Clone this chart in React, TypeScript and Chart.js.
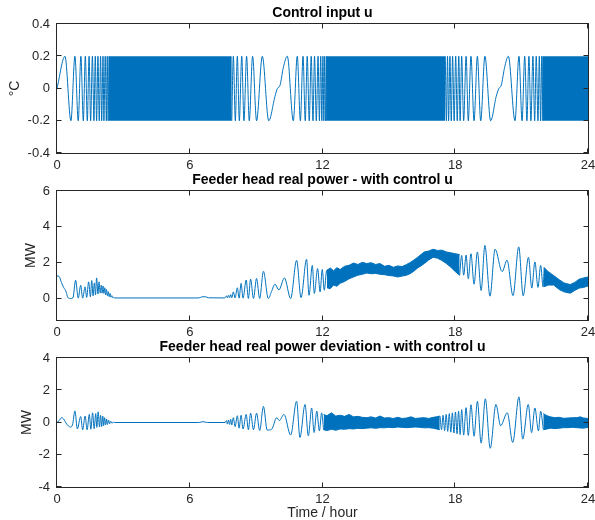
import React, { useEffect, useRef } from 'react';
import { Chart, registerables } from 'chart.js';

Chart.register(...registerables);

const LINE_COLOR = '#0072BD';
const AXIS_COLOR = '#262626';
const FONT = '"Liberation Sans", Arial, Helvetica, sans-serif';

// ---------- shared axis ----------
const hourTicks = [0, 6, 12, 18, 24];

// ---------- panel 1 : control input u ----------
const uTicks = [-0.4, -0.2, 0, 0.2, 0.4];
const uTime = [
  0, 0.36, 0.63, 0.81, 0.96, 1.08, 1.19, 1.28, 1.37, 1.45, 1.52, 1.6, 1.67, 1.73, 1.79, 1.85, 1.91, 1.97, 2.02, 2.08, 2.12, 2.18, 2.23, 2.27, 2.31, 2.35,
  5,
  7.9, 7.97, 8.06, 8.15, 8.24, 8.35, 8.45, 8.57, 8.69, 8.84, 9.02, 9.28, 9.57, 9.85, 9.96, 10.08, 10.23, 10.41, 10.68, 10.86, 11.0, 11.12, 11.22, 11.31, 11.4, 11.49, 11.57, 11.64, 11.72, 11.8, 11.86, 11.92, 11.97, 12.02, 12.06, 12.1, 12.14, 12.18,
  15,
  17.55, 17.6, 17.65, 17.7, 17.76, 17.82, 17.88, 17.95, 18.02, 18.09, 18.16, 18.22, 18.29, 18.38, 18.49, 18.59, 18.71, 18.85, 19.0, 19.15, 19.34, 19.6, 19.85, 19.97, 20.08, 20.23, 20.4, 20.7, 20.88, 21.02, 21.14, 21.24, 21.33, 21.42, 21.51, 21.59, 21.66, 21.74, 21.8, 21.86, 21.91, 21.96,
];
const uValue = [
  0, 0.2, -0.2, 0.2, -0.2, 0.2, -0.2, 0.2, -0.2, 0.2, -0.2, 0.2, -0.2, 0.2, -0.2, 0.2, -0.2, 0.2, -0.2, 0.2, -0.2, 0.2, -0.2, 0.2, -0.2, 0.2,
  null,
  -0.2, 0.2, -0.2, 0.2, -0.2, 0.2, -0.2, 0.2, -0.2, 0.2, -0.2, 0.2, -0.2, -0.05, 0, 0.02, 0.13, 0.2, -0.2, 0.2, -0.2, 0.2, -0.2, 0.2, -0.2, 0.2, -0.2, 0.2, -0.2, 0.2, -0.2, 0.2, -0.2, 0.2, -0.2, 0.2, -0.2, 0.2,
  null,
  0.2, -0.2, 0.2, -0.2, 0.2, -0.2, 0.2, -0.2, 0.2, -0.2, 0.2, -0.2, 0.2, -0.2, 0.2, -0.2, 0.2, -0.2, 0.2, -0.2, 0.2, -0.2, -0.05, 0, 0.02, 0.13, 0.2, -0.2, 0.2, -0.2, 0.2, -0.2, 0.2, -0.2, 0.2, -0.2, 0.2, -0.2, 0.2, -0.2, 0.2, -0.2,
];
// dense (solid) stretches of u
const uBandStart = [2.33, 12.16, 21.93];
const uBandEnd = [7.9, 17.55, 24];
const uBandHigh = [0.2, 0.2, 0.2];
const uBandLow = [-0.2, -0.2, -0.2];

// ---------- panel 2 : feeder head real power ----------
const pTicks = [0, 2, 4, 6];
const pTime = [
  0, 0.1, 0.2, 0.3, 0.36, 0.42, 0.48, 0.6, 0.72, 0.84, 0.96, 1.07, 1.16, 1.27, 1.34, 1.43, 1.51, 1.57, 1.63, 1.69, 1.74, 1.79, 1.85, 1.9, 1.95,
  2.0, 2.04, 2.08, 2.12, 2.16, 2.2, 2.24, 2.28, 2.32, 2.36, 2.4, 2.44, 2.48, 2.52, 2.56, 2.6,
  6.4, 6.55, 6.7, 6.85, 7.55, 7.6, 7.66, 7.7, 7.75, 7.8, 7.85, 7.9, 7.97, 8.05, 8.15, 8.23, 8.32, 8.41, 8.55, 8.65, 8.75, 8.88, 9.02, 9.16, 9.33, 9.55,
  9.7, 9.85, 10.03, 10.28, 10.56, 10.83, 11.03, 11.28, 11.39, 11.54, 11.63, 11.78, 11.89, 11.99, 12.08, 12.19, 12.26,
  15,
  18.2, 18.29, 18.38, 18.49, 18.59, 18.71, 18.85, 19.0, 19.17, 19.34, 19.57, 19.8, 20.12, 20.34, 20.61, 20.87, 21.07, 21.31, 21.46, 21.6, 21.74, 21.86, 21.97, 22.02,
];
const pValue = [
  1.26, 1.22, 0.9, 0.62, 0.5, 0.35, 0.08, 0.0, 0.03, 1.02, 0.02, 0.74, 0.02, 0.65, 0.06, 0.93, 0.1, 1.0, 0.15, 0.87, 0.2, 1.15, 0.25, 0.93, 0.3,
  0.75, 0.3, 0.7, 0.28, 0.6, 0.2, 0.5, 0.15, 0.38, 0.1, 0.28, 0.07, 0.16, 0.04, 0.06, 0.03,
  0.03, 0.09, 0.1, 0.04, 0.03, 0.05, 0.15, 0.03, 0.18, 0.04, 0.22, 0.04, 0.37, 0.03, 0.6, 0.02, 0.84, 0.02, 1.03, 0.0, 1.08, 0.0, 1.12, 0.0, 1.52, 0.0,
  0.4, 0.8, 0.48, 1.15, 0.0, 2.13, 0.05, 2.19, 0.18, 1.85, 0.28, 1.67, 0.37, 1.62, 0.46, 1.57, 0.6,
  null,
  1.3, 2.4, 1.3, 2.42, 1.1, 2.5, 0.8, 2.6, 0.45, 2.96, 0.13, 2.75, 1.5, 2.14, 0.16, 2.88, 0.15, 2.3, 0.58, 2.04, 0.62, 1.85, 0.65, 1.7,
];
// noisy stretches of P (upper / lower envelope)
const pBand1Time = [12.2, 12.35, 12.5, 12.65, 12.8, 13.0, 13.2, 13.4, 13.6, 13.8, 14.0, 14.2, 14.4, 14.6, 14.8, 15.0, 15.2, 15.4, 15.6, 15.8, 15.95, 16.1, 16.3, 16.45, 16.6, 16.8, 17.0, 17.2, 17.4, 17.6, 17.8, 18.0, 18.2];
const pBand1Upper = [1.58, 1.7, 1.55, 1.72, 1.62, 1.8, 1.85, 1.98, 1.9, 2.02, 1.95, 2.0, 1.9, 1.95, 1.8, 1.85, 1.74, 1.82, 1.78, 1.9, 2.0, 2.12, 2.3, 2.45, 2.6, 2.65, 2.75, 2.68, 2.7, 2.6, 2.55, 2.5, 2.45];
const pBand1Lower = [0.6, 0.55, 0.75, 0.68, 0.85, 0.95, 1.1, 1.2, 1.3, 1.35, 1.42, 1.38, 1.4, 1.35, 1.33, 1.28, 1.26, 1.2, 1.25, 1.3, 1.38, 1.5, 1.7, 1.82, 1.95, 2.15, 2.3, 2.25, 2.12, 1.95, 1.75, 1.5, 1.3];
const pBand2Time = [22.0, 22.2, 22.45, 22.7, 22.9, 23.05, 23.2, 23.4, 23.6, 23.8, 24];
const pBand2Upper = [1.75, 1.5, 1.28, 1.05, 0.88, 0.82, 0.78, 0.9, 1.08, 1.15, 1.2];
const pBand2Lower = [0.65, 0.75, 0.75, 0.5, 0.38, 0.33, 0.3, 0.45, 0.58, 0.62, 0.7];

// ---------- panel 3 : feeder head real power deviation ----------
const dTicks = [-4, -2, 0, 2, 4];
const dTime = [
  0, 0.1, 0.21, 0.3, 0.44, 0.6, 0.7, 0.81, 0.92, 1.07, 1.16, 1.27, 1.36, 1.46, 1.53, 1.61, 1.68, 1.75, 1.8, 1.86, 1.92, 1.97, 2.02, 2.07, 2.11, 2.15, 2.2, 2.24, 2.28, 2.33, 2.38, 2.43, 2.48, 2.55, 2.6,
  6.4, 6.6, 6.8, 7.6, 7.66, 7.7, 7.75, 7.8, 7.85, 7.9, 7.97, 8.05, 8.15, 8.23, 8.32, 8.41, 8.55, 8.65, 8.75, 8.88, 9.02, 9.16, 9.33, 9.5,
  9.7, 9.93, 10.05, 10.26, 10.56, 10.83, 10.98, 11.21, 11.36, 11.51, 11.62, 11.74, 11.86, 11.96, 12.05,
  15,
  17.31, 17.38, 17.45, 17.52, 17.59, 17.66, 17.73, 17.8, 17.87, 17.94, 18.01, 18.08, 18.15, 18.22, 18.29, 18.38, 18.49, 18.59, 18.71, 18.85, 19.0, 19.17, 19.36, 19.58,
  19.84, 20.05, 20.35, 20.6, 20.88, 21.05, 21.3, 21.45, 21.6, 21.76, 21.86, 21.98,
];
const dValue = [
  0, 0.12, 0.3, 0.22, -0.1, -0.28, -0.15, 0.72, -0.4, 0.37, -0.45, 0.4, -0.45, 0.5, -0.42, 0.6, -0.38, 0.55, -0.3, 0.66, -0.28, 0.45, -0.25, 0.4, -0.2, 0.3, -0.15, 0.22, -0.12, 0.15, -0.08, 0.08, -0.04, 0.02, 0,
  0, 0.05, 0, 0, 0.12, -0.1, 0.15, -0.12, 0.2, -0.15, 0.3, -0.25, 0.42, -0.35, 0.45, -0.4, 0.5, -0.45, 0.58, -0.45, 0.58, -0.5, 1.0, -0.47,
  -0.42, 0.3, 0.12, 0.5, -0.78, 1.32, -0.93, 1.12, -0.83, 0.9, -0.62, 0.7, -0.52, 0.6, -0.45,
  null,
  0.4, -0.45, 0.45, -0.5, 0.5, -0.55, 0.55, -0.6, 0.6, -0.65, 0.65, -0.7, 0.7, -0.75, 0.8, -0.78, 0.92, -0.8, 1.1, -0.85, 1.32, -1.28, 1.47, -1.6,
  1.12, -0.2, 0.6, -1.24, 1.59, -1.03, 1.12, -0.63, 0.9, -0.52, 0.7, -0.42,
];
const dBand1Time = [12.05, 12.2, 12.4, 12.6, 12.8, 13.0, 13.2, 13.4, 13.6, 13.8, 14.0, 14.2, 14.4, 14.6, 14.8, 15.0, 15.2, 15.4, 15.6, 15.8, 16.0, 16.2, 16.4, 16.6, 16.8, 17.0, 17.15, 17.3];
const dBand1Upper = [0.5, 0.42, 0.6, 0.4, 0.45, 0.38, 0.5, 0.35, 0.38, 0.32, 0.3, 0.35, 0.28, 0.4, 0.28, 0.3, 0.25, 0.32, 0.25, 0.28, 0.35, 0.25, 0.28, 0.3, 0.25, 0.32, 0.35, 0.4];
const dBand1Lower = [-0.45, -0.5, -0.42, -0.48, -0.4, -0.42, -0.38, -0.4, -0.36, -0.38, -0.35, -0.33, -0.36, -0.32, -0.33, -0.3, -0.32, -0.28, -0.3, -0.32, -0.3, -0.28, -0.3, -0.33, -0.32, -0.35, -0.4, -0.45];
const dBand2Time = [21.98, 22.15, 22.3, 22.5, 22.7, 22.9, 23.1, 23.3, 23.5, 23.65, 23.8, 24];
const dBand2Upper = [0.55, 0.42, 0.35, 0.3, 0.32, 0.26, 0.28, 0.3, 0.3, 0.35, 0.28, 0.25];
const dBand2Lower = [-0.45, -0.4, -0.35, -0.38, -0.35, -0.32, -0.32, -0.3, -0.32, -0.34, -0.35, -0.3];

// ---------- helpers ----------
function pts(t: number[], v: (number | null)[]) {
  return t.map((x, i) => ({ x, y: v[i] }));
}

function lineDataset(t: number[], v: (number | null)[]) {
  return {
    data: pts(t, v),
    borderColor: LINE_COLOR,
    borderWidth: 1,
    pointRadius: 0,
    fill: false,
    spanGaps: false,
    cubicInterpolationMode: 'monotone',
  };
}

function bandDatasets(t: number[], upper: number[], lower: number[]) {
  return [
    { data: pts(t, upper), borderColor: LINE_COLOR, backgroundColor: LINE_COLOR, borderWidth: 1, pointRadius: 0, fill: '+1', tension: 0 },
    { data: pts(t, lower), borderColor: LINE_COLOR, borderWidth: 1, pointRadius: 0, fill: false, tension: 0 },
  ];
}

function solidBlocks(start: number[], end: number[], high: number[], low: number[]) {
  return start.map((s, i) => ({
    data: [{ x: s, y: high[i] }, { x: end[i], y: high[i] }],
    borderColor: LINE_COLOR,
    backgroundColor: LINE_COLOR,
    borderWidth: 0,
    pointRadius: 0,
    fill: { value: low[i] },
  }));
}

function framePlugin(title: string) {
  return {
    id: 'matlabFrame',
    afterDraw(chart: any) {
      const { ctx, chartArea } = chart;
      const { left, right, top, bottom } = chartArea;
      const xs = chart.scales.x;
      const ys = chart.scales.y;
      const L = left - 0.5, R = right + 0.5, T = top - 0.5, B = bottom + 0.5;
      ctx.save();
      ctx.strokeStyle = AXIS_COLOR;
      ctx.lineWidth = 1;
      ctx.strokeRect(L, T, R - L, B - T);
      const tl = 5;
      ctx.beginPath();
      xs.ticks.forEach((tk: any) => {
        const px = Math.round(xs.getPixelForValue(tk.value)) - 0.5;
        ctx.moveTo(px, B); ctx.lineTo(px, B - tl);
        ctx.moveTo(px, T); ctx.lineTo(px, T + tl);
      });
      ys.ticks.forEach((tk: any) => {
        const py = Math.round(ys.getPixelForValue(tk.value)) - 0.5;
        ctx.moveTo(L, py); ctx.lineTo(L + tl, py);
        ctx.moveTo(R, py); ctx.lineTo(R - tl, py);
      });
      ctx.stroke();
      ctx.fillStyle = '#000';
      ctx.font = `bold 14px ${FONT}`;
      ctx.textAlign = 'center';
      ctx.textBaseline = 'middle';
      ctx.fillText(title, (left + right) / 2, top - 10.5);
      ctx.restore();
    },
  };
}

type PanelCfg = {
  title: string;
  datasets: any[];
  yMin: number;
  yMax: number;
  yTicks: number[];
  yLabel: string;
  yLabelPad: number;
  areaTop: number;
  xHeight: number;
  xTitle?: string;
};

function makeChart(canvas: HTMLCanvasElement, cfg: PanelCfg) {
  const tickFont = { family: FONT, size: 13 };
  return new Chart(canvas, {
    type: 'line',
    data: { datasets: cfg.datasets },
    options: {
      responsive: false,
      maintainAspectRatio: false,
      animation: false,
      events: [],
      layout: { padding: { top: cfg.areaTop, right: 7, left: 0, bottom: 0 } },
      plugins: { legend: { display: false }, tooltip: { enabled: false }, title: { display: false } },
      elements: { point: { radius: 0 } },
      scales: {
        x: {
          type: 'linear',
          min: 0,
          max: 24,
          grid: { display: false, drawTicks: false },
          border: { display: false },
          ticks: { font: tickFont, color: AXIS_COLOR, padding: 5, maxRotation: 0, autoSkip: false, callback: (v: any) => String(v) },
          afterBuildTicks: (s: any) => { s.ticks = hourTicks.map((v) => ({ value: v })); },
          afterFit: (s: any) => { s.height = cfg.xHeight; s.paddingLeft = 0; s.paddingRight = 0; },
          title: cfg.xTitle
            ? { display: true, text: cfg.xTitle, color: AXIS_COLOR, font: { family: FONT, size: 14 }, padding: { top: 0, bottom: 8 } }
            : { display: false },
        },
        y: {
          type: 'linear',
          min: cfg.yMin,
          max: cfg.yMax,
          grid: { display: false, drawTicks: false },
          border: { display: false },
          ticks: { font: tickFont, color: AXIS_COLOR, padding: 7, callback: (v: any) => String(v) },
          afterBuildTicks: (s: any) => { s.ticks = cfg.yTicks.map((v) => ({ value: v })); },
          afterFit: (s: any) => { s.width = 57; s.paddingTop = 0; s.paddingBottom = 0; },
          title: { display: true, text: cfg.yLabel, color: AXIS_COLOR, font: { family: FONT, size: 14 }, padding: { top: cfg.yLabelPad, bottom: 0 } },
        },
      },
    } as any,
    plugins: [framePlugin(cfg.title)],
  });
}

export default function App() {
  const c1 = useRef<HTMLCanvasElement>(null);
  const c2 = useRef<HTMLCanvasElement>(null);
  const c3 = useRef<HTMLCanvasElement>(null);

  useEffect(() => {
    const charts: Chart[] = [];
    if (c1.current) {
      charts.push(makeChart(c1.current, {
        title: 'Control input u',
        datasets: [lineDataset(uTime, uValue), ...solidBlocks(uBandStart, uBandEnd, uBandHigh, uBandLow)],
        yMin: -0.4, yMax: 0.4, yTicks: uTicks, yLabel: '°C', yLabelPad: 7,
        areaTop: 24, xHeight: 17,
      }));
    }
    if (c2.current) {
      charts.push(makeChart(c2.current, {
        title: 'Feeder head real power - with control u',
        datasets: [
          lineDataset(pTime, pValue),
          ...bandDatasets(pBand1Time, pBand1Upper, pBand1Lower),
          ...bandDatasets(pBand2Time, pBand2Upper, pBand2Lower),
        ],
        yMin: -1.2, yMax: 6, yTicks: pTicks, yLabel: 'MW', yLabelPad: 23,
        areaTop: 21, xHeight: 20,
      }));
    }
    if (c3.current) {
      charts.push(makeChart(c3.current, {
        title: 'Feeder head real power deviation - with control u',
        datasets: [
          lineDataset(dTime, dValue),
          ...bandDatasets(dBand1Time, dBand1Upper, dBand1Lower),
          ...bandDatasets(dBand2Time, dBand2Upper, dBand2Lower),
        ],
        yMin: -4, yMax: 4, yTicks: dTicks, yLabel: 'MW', yLabelPad: 19,
        areaTop: 18, xHeight: 43, xTitle: 'Time / hour',
      }));
    }
    return () => charts.forEach((c) => c.destroy());
  }, []);

  const canvasStyle = (top: number): React.CSSProperties => ({ position: 'absolute', left: 0, top, display: 'block' });

  return (
    <div style={{ position: 'absolute', left: 0, top: 0, width: 595, height: 520, overflow: 'hidden', background: '#fff' }}>
      <canvas ref={c1} width={595} height={170} style={canvasStyle(0)} />
      <canvas ref={c2} width={595} height={170} style={canvasStyle(170)} />
      <canvas ref={c3} width={595} height={190} style={canvasStyle(340)} />
    </div>
  );
}
